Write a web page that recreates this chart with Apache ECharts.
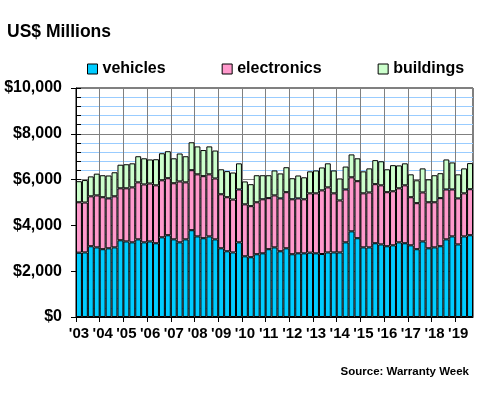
<!DOCTYPE html>
<html><head><meta charset="utf-8">
<script src="https://cdn.jsdelivr.net/npm/echarts@6/dist/echarts.min.js"></script>
<style>html,body{margin:0;padding:0;background:#fff}#c{width:480px;height:400px}</style>
</head><body><div id="c"></div>
<script>
const yearLabels = ["'03","'04","'05","'06","'07","'08","'09","'10","'11","'12","'13","'14","'15","'16","'17","'18","'19"];
const quarterNames = ["Q1","Q2","Q3","Q4"];
const seriesNames = ["vehicles","electronics","buildings"];
const vehicles = [2810,2820,3090,3040,2960,3000,3040,3350,3300,3260,
  3390,3260,3300,3220,3480,3570,3390,3260,3390,3790,
  3520,3440,3520,3390,3000,2870,2820,3260,2650,2610,
  2740,2780,2960,3040,2870,3000,2740,2780,2780,2810,
  2780,2750,2820,2820,2820,3260,3740,3440,3040,3040,
  3220,3170,3090,3130,3260,3220,3130,2960,3300,3000,
  3040,3090,3390,3520,3170,3520,3570];
const electronics = [2200,2180,2180,2270,2270,2180,2230,2270,2320,2400,
  2490,2530,2530,2530,2490,2490,2450,2660,2490,2620,
  2710,2710,2710,2660,2360,2360,2310,2310,2270,2230,
  2270,2360,2230,2270,2310,2450,2400,2400,2360,2590,
  2620,2780,2840,2580,2270,2310,2360,2490,2360,2400,
  2580,2580,2360,2360,2360,2530,2100,2010,2140,2010,
  1970,2100,2180,2050,2010,1880,2010];
const buildings = [920,980,870,950,960,1000,1050,1030,1050,1050,
  1140,1140,1050,1140,1180,1180,1090,1220,1140,1220,
  1220,1140,1220,1220,1090,1140,1180,1140,1000,960,
  1180,1050,1000,1090,1090,1090,920,1000,960,960,
  1000,1000,1050,1000,960,1000,1000,1000,960,1050,
  1050,1050,1000,1140,1000,960,1000,1000,1050,1000,
  1180,1090,1310,1180,1050,1090,1140];

const categories = [];
yearLabels.forEach(y => quarterNames.forEach(q => categories.push(y + ' ' + q)));
categories.length = vehicles.length;

const FONT = '"Liberation Sans", Arial, sans-serif';
const colors = ['#00CCFF', '#FF99CC', '#CCFFCC'];
const fmtMoney = v => '$' + String(v).replace(/\B(?=(\d{3})+(?!\d))/g, ',');

const chart = echarts.init(document.getElementById('c'), null, {renderer: 'canvas'});
const mkSeries = (name, data, i) => ({
  name, type: 'bar', stack: 'total', data,
  xAxisIndex: 0, yAxisIndex: 0,
  barCategoryGap: '0%', barGap: '0%',
  itemStyle: {color: colors[i], borderColor: '#000', borderWidth: 1},
  emphasis: {disabled: true}
});
chart.setOption({
  animation: false,
  backgroundColor: '#fff',
  grid: {left: 76, right: 7, top: 88, bottom: 83, show: true, borderColor: '#000', borderWidth: 1, backgroundColor: 'transparent'},
  legend: {
    left: 87, top: 61, padding: 0, itemWidth: 10, itemHeight: 10, itemGap: 56, icon: 'rect',
    itemStyle: {borderColor: '#000', borderWidth: 1},
    textStyle: {fontFamily: FONT, fontWeight: 'bold', fontSize: 16, color: '#000'},
    data: seriesNames
  },
  graphic: [
    {type: 'text', left: 7, top: 23, style: {text: 'US$ Millions', font: 'bold 17.5px ' + FONT, fill: '#000'}},
    {type: 'text', right: 11, top: 366, style: {text: 'Source: Warranty Week', font: 'bold 11.5px ' + FONT, fill: '#000'}}
  ],
  xAxis: [
    {type: 'category', data: categories, position: 'bottom',
     axisLine: {show: true, lineStyle: {color: '#000', width: 1}},
     axisTick: {show: false}, axisLabel: {show: false}, splitLine: {show: false}},
    {type: 'value', position: 'bottom', min: 0, max: vehicles.length, interval: 4,
     axisLine: {show: false},
     axisTick: {show: true, length: 5, lineStyle: {color: '#000'}},
     axisLabel: {show: true, showMaxLabel: false, margin: 9, padding: [0,0,0,6],
       formatter: v => (v % 4 === 0 && yearLabels[v/4]) ? yearLabels[v/4] : '',
       fontFamily: FONT, fontWeight: 'bold', fontSize: 15, color: '#000'},
     splitLine: {show: true, lineStyle: {color: '#808080', width: 1}}}
  ],
  yAxis: [
    {type: 'value', min: 0, max: 10000, interval: 2000, position: 'left',
     axisLine: {show: true, lineStyle: {color: '#000'}},
     axisTick: {show: true, length: 5, lineStyle: {color: '#000'}},
     axisLabel: {margin: 14, formatter: fmtMoney, fontFamily: FONT, fontWeight: 'bold', fontSize: 16, color: '#000'},
     splitLine: {show: true, lineStyle: {color: '#808080', width: 1}},
     minorTick: {show: false, splitNumber: 5},
     minorSplitLine: {show: true, lineStyle: {color: '#99CCFF', width: 1}}},
    {type: 'value', min: 0, max: 10000, interval: 2000, position: 'left',
     axisLine: {show: false},
     axisTick: {show: true, inside: true, length: 5, lineStyle: {color: '#000'}},
     minorTick: {show: true, splitNumber: 5, length: 5, lineStyle: {color: '#000'}},
     axisLabel: {show: false}, splitLine: {show: false}}
  ],
  series: [
    mkSeries(seriesNames[0], vehicles, 0),
    mkSeries(seriesNames[1], electronics, 1),
    mkSeries(seriesNames[2], buildings, 2)
  ]
});
</script></body></html>
